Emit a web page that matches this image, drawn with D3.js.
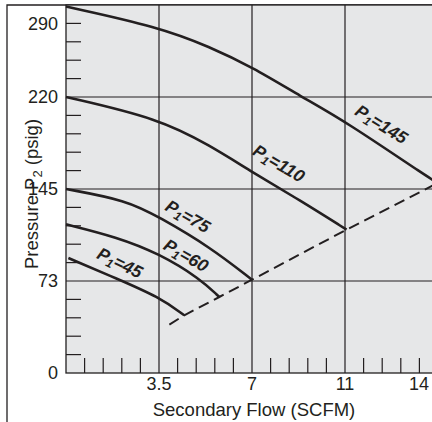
<!DOCTYPE html>
<html>
<head>
<meta charset="utf-8">
<script src="https://cdn.jsdelivr.net/npm/d3@7"></script>
<style>
	body { margin: 0; background: #fff; }
	text { font-family: "Liberation Sans", Arial, Helvetica, sans-serif; fill: #231f20; }
</style>
</head>
<body>
<script>
// axis ticks (labelled) and grid lines
var xTicks = [3.5, 7, 11, 14],
	yTicks = [0, 73, 145, 220, 290],
	xGrid = [3.5, 7, 11, 14],
	yGrid = [73, 145, 220];

// the axes are not linear: every labelled value sits on a fixed minor tick
var xTickIndex = [0, 5, 10, 15, 20],
	yTickIndex = [0, 5, 10, 15, 19];

// one curve per inlet pressure, [flow, pressure]
var curve145 = [[0, 306], [3.5, 286.5], [5.42, 267.6], [7, 248.5], [9.14, 220], [11, 200.4], [13.77, 152.9], [14, 150]],
	curve110 = [[0, 220], [3.5, 202.4], [5.42, 180.4], [7, 158.9], [9.06, 136.2], [11.05, 113.2]],
	curve75 = [[0, 145], [2.28, 136.2], [3.5, 123.1], [5.42, 99.6], [7, 74]],
	curve60 = [[0, 117.4], [1.91, 107.4], [3.5, 94.5], [5.04, 74.9], [5.77, 60.3]],
	curve45 = [[0.09, 91], [1.91, 74.9], [3.5, 60.3], [4.45, 45.8]];

// dashed line through the end of every curve
var limitLine = [[3.89, 38.4], [4.45, 45.8], [5.77, 60.3], [7, 74], [11.05, 113.2], [14, 150]];

// curve labels: text, position [flow, pressure], angle
var labelNames = ['145', '110', '75', '60', '45'],
	labelPos = [[12.18, 197.8], [8.16, 166], [4.59, 123.7], [4.52, 93.1], [2.03, 87.3]],
	labelAngle = [32, 31, 30, 30, 26];

window.onload = function() {

	var W = 432, H = 422;
	var margin = {top: 5, left: 66},
		plotW = 372,
		plotH = 368;

	var ink = '#231f20';

	var xIdx = d3.scaleLinear().domain([0, 3.5, 7, 11, 14]).range(xTickIndex),
		yIdx = d3.scaleLinear().domain(yTicks).range(yTickIndex);

	var xPix = d3.scaleLinear().domain([0, 20]).range([margin.left, margin.left + plotW]),
		yPix = d3.scaleLinear().domain([0, 20]).range([margin.top + plotH, margin.top]);

	var x = function(v) { return xPix(xIdx(v)); },
		y = function(v) { return yPix(yIdx(v)); };

	var svg = d3.select('body').append('svg')
		.attr('width', W)
		.attr('height', H);

	// outer frame
	svg.append('path')
		.attr('d', 'M7,' + H + 'V' + margin.top + 'H' + W)
		.attr('fill', 'none')
		.attr('stroke', ink)
		.attr('stroke-width', 1.3);

	// plot background
	svg.append('rect')
		.attr('x', xPix(0))
		.attr('y', yPix(20))
		.attr('width', xPix(20) - xPix(0))
		.attr('height', yPix(0) - yPix(20))
		.attr('fill', '#e6e7e8')
		.attr('stroke', ink)
		.attr('stroke-width', 1.3);

	// grid lines
	svg.selectAll('.vgrid').data(xGrid).enter().append('line')
		.attr('x1', function(d) { return x(d); })
		.attr('x2', function(d) { return x(d); })
		.attr('y1', yPix(0))
		.attr('y2', yPix(20))
		.attr('stroke', ink)
		.attr('stroke-width', 1.2);

	svg.selectAll('.hgrid').data(yGrid).enter().append('line')
		.attr('x1', xPix(0))
		.attr('x2', xPix(20))
		.attr('y1', function(d) { return y(d); })
		.attr('y2', function(d) { return y(d); })
		.attr('stroke', ink)
		.attr('stroke-width', 1.2);

	// minor ticks
	var minor = d3.range(1, 20).filter(function(i) { return i % 5 != 0; });

	svg.selectAll('.xminor').data(minor).enter().append('line')
		.attr('x1', function(d) { return xPix(d); })
		.attr('x2', function(d) { return xPix(d); })
		.attr('y1', yPix(0))
		.attr('y2', yPix(0) - 15)
		.attr('stroke', ink)
		.attr('stroke-width', 1.2);

	svg.selectAll('.yminor').data(minor).enter().append('line')
		.attr('x1', xPix(0))
		.attr('x2', xPix(0) + 15)
		.attr('y1', function(d) { return yPix(d); })
		.attr('y2', function(d) { return yPix(d); })
		.attr('stroke', ink)
		.attr('stroke-width', 1.2);

	// tick labels
	svg.selectAll('.xlab').data(xTicks).enter().append('text')
		.attr('x', function(d) { return Math.min(x(d), W - 13); })
		.attr('y', yPix(0) + 17)
		.attr('text-anchor', 'middle')
		.style('font-size', '18px')
		.text(function(d) { return d; });

	svg.selectAll('.ylab').data(yTicks).enter().append('text')
		.attr('x', xPix(0) - 8)
		.attr('y', function(d) { return y(d); })
		.attr('dy', '0.36em')
		.attr('text-anchor', 'end')
		.style('font-size', '18px')
		.text(function(d) { return d; });

	// axis titles
	svg.append('text')
		.attr('x', 254)
		.attr('y', 416)
		.attr('text-anchor', 'middle')
		.style('font-size', '18.5px')
		.text('Secondary Flow (SCFM)');

	var yTitle = svg.append('text')
		.attr('transform', 'translate(38,194) rotate(-90)')
		.attr('text-anchor', 'middle')
		.style('font-size', '18.5px');
	yTitle.append('tspan').text('Pressure P');
	yTitle.append('tspan').attr('dy', 4).style('font-size', '13px').text('2');
	yTitle.append('tspan').attr('dy', -4).text(' (psig)');

	// curves
	var line = d3.line()
		.curve(d3.curveBasis)
		.x(function(d) { return x(d[0]); })
		.y(function(d) { return y(d[1]); });

	[curve145, curve110, curve75, curve60, curve45].forEach(function(c) {
		svg.append('path')
			.attr('d', line(c))
			.attr('fill', 'none')
			.attr('stroke', ink)
			.attr('stroke-width', 2.6);
	});

	svg.append('path')
		.attr('d', d3.line()
			.x(function(d) { return x(d[0]); })
			.y(function(d) { return y(d[1]); })(limitLine))
		.attr('fill', 'none')
		.attr('stroke', ink)
		.attr('stroke-width', 2)
		.attr('stroke-dasharray', '11,6');

	// curve labels
	labelNames.forEach(function(name, i) {
		var t = svg.append('text')
			.attr('transform', 'translate(' + x(labelPos[i][0]) + ',' + y(labelPos[i][1]) +
				') rotate(' + labelAngle[i] + ')')
			.attr('text-anchor', 'middle')
			.attr('dy', '0.35em')
			.style('font-size', '17.5px')
			.style('font-weight', 'bold')
			.style('font-style', 'italic');
		t.append('tspan').text('P');
		t.append('tspan').attr('dy', 3).style('font-size', '12px').text('1');
		t.append('tspan').attr('dy', -3).text('=' + name);
	});
};
</script>
</body>
</html>
